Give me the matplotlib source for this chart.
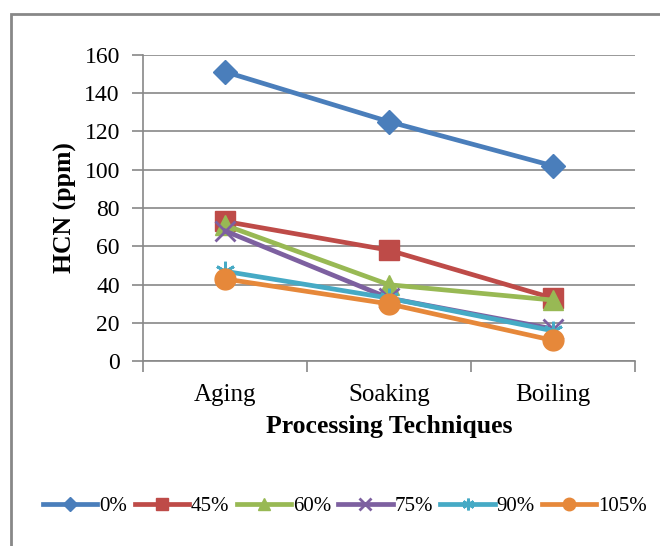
import matplotlib
matplotlib.use("Agg")
import matplotlib.pyplot as plt
from matplotlib.patches import Rectangle

# data
techniques = ["Aging", "Soaking", "Boiling"]
labels = ["0%", "45%", "60%", "75%", "90%", "105%"]
hcn_0 = [151, 125, 102]
hcn_45 = [73, 58, 33]
hcn_60 = [71, 40, 32]
hcn_75 = [68, 33, 17]
hcn_90 = [47, 33, 16]
hcn_105 = [43, 30, 11]

series = [hcn_0, hcn_45, hcn_60, hcn_75, hcn_90, hcn_105]
colors = ["#4A7EBB", "#BE4B48", "#98B954", "#7D60A0", "#46AAC5", "#E6883A"]
markers = ["D", "s", "^", "x", (6, 2, 0), "o"]
msizes = [12, 15, 15, 14, 14, 15]

plt.rcParams["font.family"] = ["Liberation Serif", "DejaVu Serif"]

fig = plt.figure(figsize=(6.6, 5.46), dpi=100)
ax = fig.add_axes([0.2174, 0.338, 0.7443, 0.562])

# outer gray frame
fig.patches.append(Rectangle((11 / 660, -0.05), 1.2, 1 - 14 / 546 + 0.05,
                             transform=fig.transFigure, fill=False,
                             edgecolor="#888888", linewidth=2))

x = list(range(len(techniques)))
for vals, lab, c, m, ms in zip(series, labels, colors, markers, msizes):
    ax.plot(x, vals, color=c, lw=3.4, marker=m, markersize=ms,
            markeredgecolor=c,
            markeredgewidth=2 if m in ("x", (6, 2, 0)) else 1,
            label=lab)

ax.set_xlim(-0.5, 2.5)
ax.set_ylim(0, 160)
ax.set_yticks(range(0, 161, 20))
ax.set_xticks([-0.5, 0.5, 1.5, 2.5])
ax.set_xticklabels([])
ax.set_xticks(x, minor=True)
ax.set_xticklabels(techniques, minor=True)
ax.tick_params(axis="x", which="minor", length=0, pad=16, labelsize=18)
ax.tick_params(axis="x", which="major", length=8, color="#888888", width=1.2)
ax.tick_params(axis="y", length=8, color="#888888", width=1.2, labelsize=17, pad=9)

ax.grid(axis="y", color="#888888", lw=1.2)
ax.set_axisbelow(True)
for s in ["top", "right"]:
    ax.spines[s].set_visible(False)
ax.spines["left"].set_color("#888888")
ax.spines["bottom"].set_color("#888888")
ax.spines["left"].set_linewidth(1.2)
ax.spines["bottom"].set_linewidth(1.2)

ax.set_ylabel("HCN (ppm)", fontsize=18.5, fontweight="bold", labelpad=5)
ax.set_xlabel("Processing Techniques", fontsize=18.5, fontweight="bold", labelpad=7)

fig.legend(loc="center", bbox_to_anchor=(0.523, 1 - 506 / 546), ncol=6,
           frameon=False, fontsize=15, handlelength=2.6, handletextpad=0.1,
           columnspacing=0.35, markerscale=0.6)

fig.savefig("out.png", dpi=100)
